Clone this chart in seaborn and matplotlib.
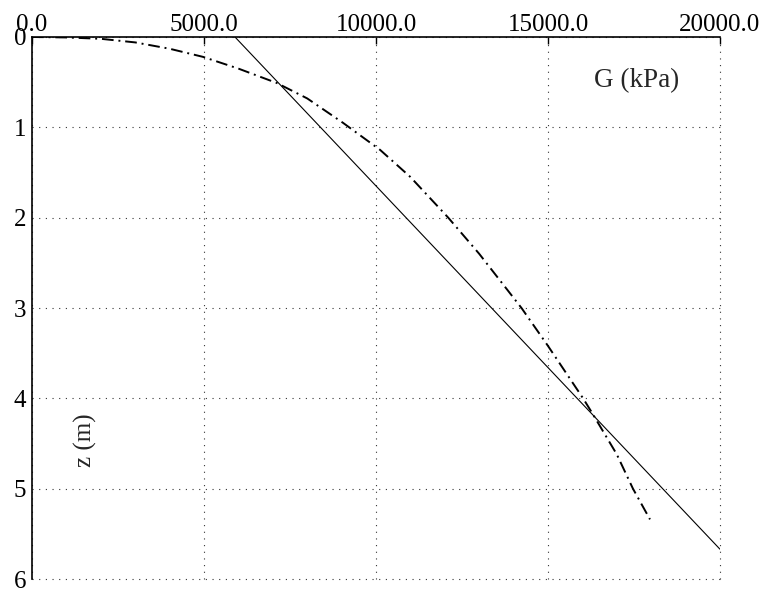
import pandas as pd
import matplotlib.pyplot as plt
import seaborn as sns

# Shear modulus profile vs depth
# straight-line profile
line_G = [5900.0, 20000.0]
line_z = [0.0, 5.67]

# measured-type curve (dash-dot)
curve_G = [0, 1000, 2000, 3000, 4000, 4970, 6000, 7120, 8000, 9040, 10120,
           11000, 12100, 13000, 14230, 15000, 16020, 16280, 17000, 17470, 17965]
curve_z = [0.0, 0.005, 0.02, 0.06, 0.13, 0.22, 0.35, 0.51, 0.68, 0.95, 1.25,
           1.55, 2.0, 2.4, 3.0, 3.42, 4.0, 4.16, 4.62, 5.0, 5.34]

x_ticks = [0, 5000, 10000, 15000, 20000]
y_ticks = [0, 1, 2, 3, 4, 5, 6]

df_line = pd.DataFrame({"G": line_G, "z": line_z})
df_curve = pd.DataFrame({"G": curve_G, "z": curve_z})

sns.set_style("white")
plt.rcParams["font.family"] = ["Liberation Serif", "DejaVu Serif"]

fig = plt.figure(figsize=(7.59, 5.9), dpi=100)
ax = fig.add_axes([0.0422, 0.0186, 0.9064, 0.9187])

sns.lineplot(data=df_line, x="G", y="z", sort=False, ax=ax,
             color="black", linewidth=0.8)
sns.lineplot(data=df_curve, x="G", y="z", sort=False, ax=ax,
             color="black", linewidth=1.4, linestyle=(0, (6, 2.5, 1, 2.5)))

ax.set_xlim(0, 20000)
ax.set_ylim(6, 0)
ax.set_xticks(x_ticks)
ax.set_xticklabels([f"{t:.1f}" for t in x_ticks])
ax.set_yticks(y_ticks)
ax.xaxis.tick_top()
ax.tick_params(axis="both", direction="in", length=5, width=1,
               labelsize=18, colors="black", pad=1)
ax.tick_params(axis="y", pad=4)
ax.set_xlabel("")
ax.set_ylabel("")

ax.grid(True, color="#333333", linestyle=(0, (1, 5)), linewidth=0.8)
for gl in ax.get_xgridlines() + ax.get_ygridlines():
    gl.set_clip_on(False)

for side in ["right", "bottom"]:
    ax.spines[side].set_visible(False)
for side in ["left", "top"]:
    ax.spines[side].set_color("black")
    ax.spines[side].set_linewidth(1.2)

ax.text(0.879, 0.919, "G (kPa)", transform=ax.transAxes,
        ha="center", va="center", fontsize=19.5)
ax.text(0.077, 0.256, "z (m)", transform=ax.transAxes, rotation=90,
        ha="center", va="center", fontsize=18)

fig.savefig("out.png", dpi=100)
